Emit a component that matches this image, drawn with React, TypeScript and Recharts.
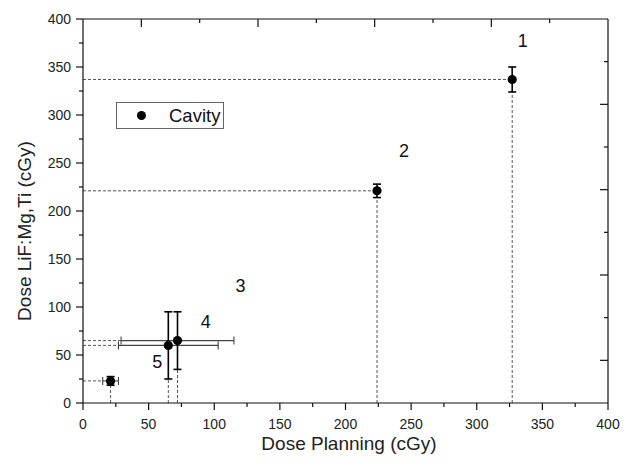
import React from 'react';
import { ScatterChart, Scatter, XAxis, YAxis, ErrorBar, ReferenceLine, ReferenceDot } from 'recharts';

const FONT = '"Liberation Sans", Arial, sans-serif';

// measured points: planning dose vs LiF:Mg,Ti dose
const planned = [327, 224, 21, 72, 65];
const measured = [337, 221, 23, 65, 60];
const yErr = [13, 7, 4.5, 30, 35];
const xErr = [0, 0, 6, 43, 38];

// number tags placed near the points
const tagText = ['1', '2', '3', '4', '5'];
const tagX = [335, 244.5, 120, 93.5, 56.5];
const tagY = [377, 263, 122.5, 85, 43.5];

const xTicks = [0, 25, 50, 75, 100, 125, 150, 175, 200, 225, 250, 275, 300, 325, 350, 375, 400];
const yTicks = [0, 25, 50, 75, 100, 125, 150, 175, 200, 225, 250, 275, 300, 325, 350, 375, 400];
// the top/right frame axes have their own 0..9 scale
const frameTicks = [1, 2, 3, 4, 5, 6, 7, 8];
const frameRange = [{ fx: 0, fy: 0 }, { fx: 9, fy: 9 }];

const points = planned.map((x, i) => ({ x, y: measured[i], ey: yErr[i], ex: xErr[i] }));
const xErrPoints = points.filter((p) => p.ex > 0);

// plot box size (chart 630x465 minus axis widths / margins)
const PLOT_W = 630 - 83 - 22;
const PLOT_H = 465 - 19 - 62;

const BottomTick = ({ x, y, payload }: any) => {
  const major = payload.value % 50 === 0;
  return (
    <g>
      <line x1={x} y1={y} x2={x} y2={y + (major ? 7 : 4)} stroke="#111" strokeWidth={1.2} />
      {/* right frame edge drawn from the last tick */}
      {payload.value === 400 && <line x1={x} y1={y} x2={x} y2={y - PLOT_H} stroke="#111" strokeWidth={1.2} />}
      {major && (
        <text x={x} y={y + 21} textAnchor="middle" dominantBaseline="central" fontSize={14} fill="#222" fontFamily={FONT}>
          {payload.value}
        </text>
      )}
    </g>
  );
};

const LeftTick = ({ x, y, payload }: any) => {
  const major = payload.value % 50 === 0;
  return (
    <g>
      <line x1={x} y1={y} x2={x - (major ? 7 : 4)} y2={y} stroke="#111" strokeWidth={1.2} />
      {/* top frame edge and its inward ticks drawn from the last tick */}
      {payload.value === 400 && (
        <g>
          <line x1={x} y1={y} x2={x + PLOT_W} y2={y} stroke="#111" strokeWidth={1.2} />
          {frameTicks.map((k) => (
            <line
              key={k}
              x1={x + (k * PLOT_W) / 9}
              y1={y}
              x2={x + (k * PLOT_W) / 9}
              y2={y + (k % 2 ? 8 : 4)}
              stroke="#111"
              strokeWidth={1.2}
            />
          ))}
        </g>
      )}
      {major && (
        <text x={x - 12} y={y} textAnchor="end" dominantBaseline="central" fontSize={14} fill="#222" fontFamily={FONT}>
          {payload.value}
        </text>
      )}
    </g>
  );
};

const RightTick = ({ x, y, payload }: any) => (
  <line x1={x} y1={y} x2={x - (payload.value % 2 ? 8 : 4)} y2={y} stroke="#111" strokeWidth={1.2} />
);

const Dot = (props: any) => <circle cx={props.cx} cy={props.cy} r={4.6} fill="#000" />;
const NoDot = () => <g />;

export default function App() {
  return (
    <div style={{ position: 'absolute', left: 0, top: 0, width: 630, height: 465, background: '#fff', fontFamily: FONT }}>
      <ScatterChart width={630} height={465} margin={{ top: 19, right: 0, bottom: 0, left: 0 }}>
        <XAxis
          dataKey="x"
          type="number"
          domain={[0, 400]}
          ticks={xTicks}
          interval={0}
          height={62}
          tickSize={0}
          tickMargin={0}
          tick={BottomTick}
          axisLine={{ stroke: '#111', strokeWidth: 1.2 }}
          label={{
            content: () => (
              <text x={349} y={443} textAnchor="middle" dominantBaseline="central" fontSize={19} fill="#222" fontFamily={FONT}>
                Dose Planning (cGy)
              </text>
            ),
          }}
        />
        <YAxis
          dataKey="y"
          type="number"
          domain={[0, 400]}
          ticks={yTicks}
          interval={0}
          width={83}
          tickSize={0}
          tickMargin={0}
          tick={LeftTick}
          axisLine={{ stroke: '#111', strokeWidth: 1.2 }}
          label={{
            content: () => (
              <text
                x={24}
                y={231}
                transform="rotate(-90, 24, 231)"
                textAnchor="middle"
                dominantBaseline="central"
                fontSize={19}
                fill="#222"
                fontFamily={FONT}
              >
                Dose LiF:Mg,Ti (cGy)
              </text>
            ),
          }}
        />
        <YAxis
          yAxisId="right"
          orientation="right"
          type="number"
          domain={[0, 9]}
          allowDataOverflow
          ticks={frameTicks}
          interval={0}
          width={22}
          tickSize={0}
          tickMargin={0}
          tick={RightTick}
          axisLine={false}
        />

        {points.map((p, i) => (
          <ReferenceLine
            key={'h' + i}
            segment={[{ x: 0, y: p.y }, { x: p.x - p.ex, y: p.y }]}
            stroke="#555"
            strokeDasharray="3 2"
            strokeWidth={1}
          />
        ))}
        {points.map((p, i) => (
          <ReferenceLine
            key={'v' + i}
            segment={[{ x: p.x, y: 0 }, { x: p.x, y: p.y - p.ey }]}
            stroke="#555"
            strokeDasharray="3 2"
            strokeWidth={1}
          />
        ))}

        <Scatter data={frameRange} yAxisId="right" shape={NoDot} isAnimationActive={false} />
        <Scatter data={xErrPoints} shape={NoDot} isAnimationActive={false}>
          <ErrorBar dataKey="ex" direction="x" width={4} stroke="#444" strokeWidth={1.1} />
        </Scatter>
        <Scatter data={points} shape={Dot} isAnimationActive={false}>
          <ErrorBar dataKey="ey" direction="y" width={4} stroke="#000" strokeWidth={1.6} />
        </Scatter>

        {tagText.map((t, i) => (
          <ReferenceDot
            key={'t' + i}
            x={tagX[i]}
            y={tagY[i]}
            r={0}
            fill="none"
            stroke="none"
            label={{ value: t, position: 'center', fontSize: 18, fill: '#111', fontFamily: FONT }}
          />
        ))}
      </ScatterChart>

      <div
        style={{
          position: 'absolute',
          left: 116,
          top: 102,
          width: 106,
          height: 25,
          border: '1px solid #666',
          boxSizing: 'content-box',
          display: 'flex',
          alignItems: 'center',
          fontSize: 18.5,
          color: '#111',
        }}
      >
        <span style={{ width: 9, height: 9, borderRadius: '50%', background: '#000', marginLeft: 20, marginRight: 23 }} />
        <span>Cavity</span>
      </div>
    </div>
  );
}
